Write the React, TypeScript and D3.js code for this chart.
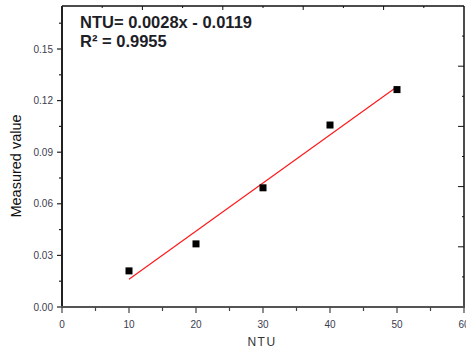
import React from "react";
import * as d3 from "d3";

const ntu = [10, 20, 30, 40, 50];
const measured = [0.021, 0.0367, 0.0693, 0.1058, 0.1264];
const slope = 0.0028;
const intercept = -0.0119;
const xTicks = [0, 10, 20, 30, 40, 50, 60];
const yTicks = [0, 0.03, 0.06, 0.09, 0.12, 0.15];
const eqText = "NTU= 0.0028x - 0.0119";
const r2Text = "R\u00B2 = 0.9955";

const W = 466, H = 354;
const L = 62, R = 464, T = 6, B = 307;

export default function App() {
  const x = d3.scaleLinear().domain([0, 60]).range([L, R]);
  const y = d3.scaleLinear().domain([0, 0.175]).range([B, T]);
  const xTop = d3.scaleLinear().domain([0, 10]).range([L, R]);
  const yRight = d3.scaleLinear().domain([0, 10]).range([B, T]);
  const xMinor = d3.range(5, 60, 10);
  const yMinor = d3.range(0.015, 0.175, 0.03);
  const sideTicks = d3.range(1, 10);
  const line = d3.line<number>().x((d) => x(d)).y((d) => y(slope * d + intercept));
  const font = "Arial, 'Liberation Sans', sans-serif";
  const tickColor = "#3c3c4e";
  return (
    <svg width={W} height={H} style={{ position: "absolute", left: 0, top: 0, background: "#fff" }}>
      {/* frame */}
      <line x1={L} x2={R} y1={T} y2={T} stroke="#111" strokeWidth={1.5} />
      <line x1={R} x2={R} y1={T} y2={B} stroke="#111" strokeWidth={1.5} />
      {/* top ticks */}
      {sideTicks.map((t) => (
        <line key={"tt" + t} x1={xTop(t)} x2={xTop(t)} y1={T} y2={T + (t % 2 === 0 ? 4 : 2)} stroke="#111" strokeWidth={1} />
      ))}
      {/* right ticks */}
      {sideTicks.map((t) => (
        <line key={"rt" + t} x1={R} x2={R - (t % 2 === 0 ? 6 : 2)} y1={yRight(t)} y2={yRight(t)} stroke="#111" strokeWidth={1} />
      ))}
      {/* left axis */}
      <line x1={L} x2={L} y1={T} y2={B + 1} stroke="#222" strokeWidth={2} />
      {yTicks.map((t) => (
        <g key={"y" + t}>
          <line x1={L - 5} x2={L} y1={y(t)} y2={y(t)} stroke="#222" strokeWidth={1.2} />
          <text x={53} y={y(t)} dy="0.35em" textAnchor="end" fontSize={10} fontFamily={font} fill={tickColor}>
            {t.toFixed(2)}
          </text>
        </g>
      ))}
      {yMinor.map((t) => (
        <line key={"ym" + t} x1={L - 3} x2={L} y1={y(t)} y2={y(t)} stroke="#222" strokeWidth={1.2} />
      ))}
      {/* bottom axis */}
      <line x1={L - 1} x2={R + 1} y1={B} y2={B} stroke="#555" strokeWidth={2} />
      {xTicks.map((t) => (
        <g key={"x" + t}>
          <line x1={x(t)} x2={x(t)} y1={B} y2={B + 6} stroke="#444" strokeWidth={1.2} />
          <text x={x(t)} y={328} textAnchor="middle" fontSize={10} fontFamily={font} fill={tickColor}>
            {t}
          </text>
        </g>
      ))}
      {xMinor.map((t) => (
        <line key={"xm" + t} x1={x(t)} x2={x(t)} y1={B} y2={B + 4} stroke="#444" strokeWidth={1.2} />
      ))}
      {/* axis titles */}
      <text x={262} y={346} textAnchor="middle" fontSize={12} fontFamily={font} fill="#333" letterSpacing="1.5">
        NTU
      </text>
      <text transform="translate(21,166) rotate(-90)" textAnchor="middle" fontSize={14.5} fontFamily={font} fill="#111">
        Measured value
      </text>
      {/* fit line */}
      <path d={line([10, 50]) || ""} stroke="#ff1a1a" strokeWidth={1.2} fill="none" />
      {/* points */}
      {ntu.map((v, i) => (
        <rect key={"p" + i} x={x(v) - 3.5} y={y(measured[i]) - 3.5} width={7} height={7} fill="#000" />
      ))}
      {/* equation */}
      <text x={80} y={28} fontSize={16.5} fontWeight="bold" fontFamily={font} fill="#1e1e28">
        {eqText}
      </text>
      <text x={80} y={47} fontSize={16.5} fontWeight="bold" fontFamily={font} fill="#1e1e28">
        {r2Text}
      </text>
    </svg>
  );
}
